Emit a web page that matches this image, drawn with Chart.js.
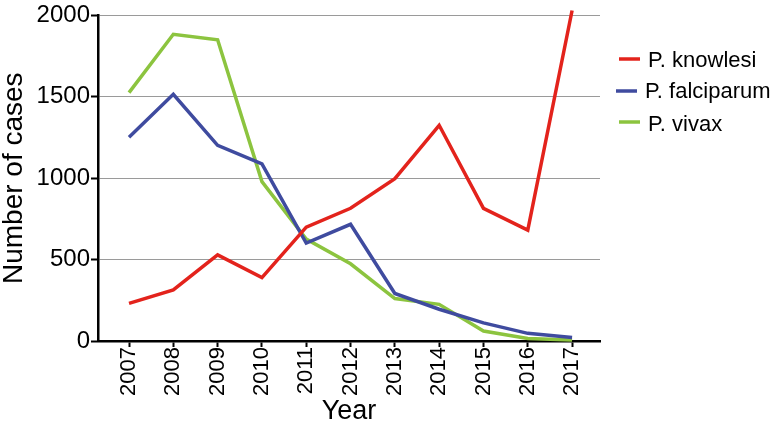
<!DOCTYPE html>
<html>
<head>
<meta charset="utf-8">
<script src="https://cdn.jsdelivr.net/npm/chart.js@4/dist/chart.umd.min.js"></script>
<style>
  html, body { margin: 0; background: #fff; }
  canvas { display: block; }
</style>
</head>
<body>
<canvas id="chart" width="776" height="428"></canvas>
<script>
const years = [2007, 2008, 2009, 2010, 2011, 2012, 2013, 2014, 2015, 2016, 2017];
const knowlesi = [231, 314, 529, 389, 699, 815, 997, 1325, 815, 681, 2030];
const falciparum = [1252, 1515, 1202, 1088, 602, 717, 292, 195, 111, 47, 22];
const vivax = [1526, 1884, 1850, 979, 626, 474, 261, 225, 61, 16, 6];
const yTicks = [0, 500, 1000, 1500, 2000];
const seriesNames = ['P. knowlesi', 'P. falciparum', 'P. vivax'];
const seriesColors = ['#e3231c', '#3f4b9f', '#8cc43f'];

const FONT = '"Liberation Sans", Arial, Helvetica, sans-serif';

function toPoints(values) {
    return years.map((y, i) => ({ x: y, y: values[i] }));
}

// legend drawn on the right, outside the plot
const sideLegend = {
    id: 'sideLegend',
    afterDraw(chart) {
        const ctx = chart.ctx;
        const rows = [
            { lx: 619, ly: 59, tx: 648, ty: 67 },
            { lx: 616, ly: 91, tx: 645, ty: 98 },
            { lx: 619, ly: 122, tx: 648, ty: 131 }
        ];
        ctx.save();
        ctx.font = '22px ' + FONT;
        ctx.textBaseline = 'alphabetic';
        ctx.textAlign = 'left';
        rows.forEach((r, i) => {
            ctx.strokeStyle = seriesColors[i];
            ctx.lineWidth = 3.5;
            ctx.beginPath();
            ctx.moveTo(r.lx, r.ly);
            ctx.lineTo(r.lx + 21, r.ly);
            ctx.stroke();
            ctx.fillStyle = '#000';
            ctx.fillText(seriesNames[i], r.tx, r.ty);
        });
        ctx.restore();
    }
};

const datasets = [knowlesi, falciparum, vivax].map((vals, i) => ({
    label: seriesNames[i],
    data: toPoints(vals),
    borderColor: seriesColors[i],
    backgroundColor: seriesColors[i],
    borderWidth: 3.5,
    pointRadius: 0,
    tension: 0,
    clip: false
}));

new Chart(document.getElementById('chart'), {
    type: 'line',
    data: { datasets },
    options: {
        responsive: false,
        animation: false,
        layout: { padding: { top: 12, right: 176, left: 0, bottom: 0 } },
        plugins: {
            legend: { display: false },
            tooltip: { enabled: false }
        },
        scales: {
            x: {
                type: 'linear',
                min: 2006.3,
                max: 2017.63,
                afterFit: s => { s.height = 87; },
                afterBuildTicks: s => { s.ticks = years.map(v => ({ value: v })); },
                border: { display: true, color: '#000', width: 2.5 },
                grid: {
                    drawOnChartArea: false,
                    drawTicks: true,
                    tickLength: 6,
                    tickColor: '#000',
                    tickWidth: 2
                },
                ticks: {
                    minRotation: 90,
                    maxRotation: 90,
                    autoSkip: false,
                    padding: 0,
                    color: '#000',
                    font: { family: FONT, size: 22 },
                    callback: v => String(v)
                },
                title: {
                    display: true,
                    text: 'Year',
                    color: '#000',
                    font: { family: FONT, size: 27 },
                    padding: { top: 0, bottom: 0 }
                }
            },
            y: {
                min: 0,
                max: 2000,
                afterFit: s => { s.width = 98; },
                afterBuildTicks: s => { s.ticks = yTicks.map(v => ({ value: v })); },
                border: { display: true, color: '#000', width: 2.5 },
                grid: {
                    color: '#9a9a9a',
                    lineWidth: 1,
                    drawTicks: true,
                    tickLength: 7,
                    tickColor: '#000',
                    tickWidth: 2
                },
                ticks: {
                    padding: 1,
                    color: '#000',
                    font: { family: FONT, size: 24 },
                    callback: v => String(v)
                },
                title: {
                    display: true,
                    text: 'Number of cases',
                    color: '#000',
                    font: { family: FONT, size: 28, lineHeight: 1 },
                    padding: { top: 0, bottom: 0 }
                }
            }
        }
    },
    plugins: [sideLegend]
});
</script>
</body>
</html>
